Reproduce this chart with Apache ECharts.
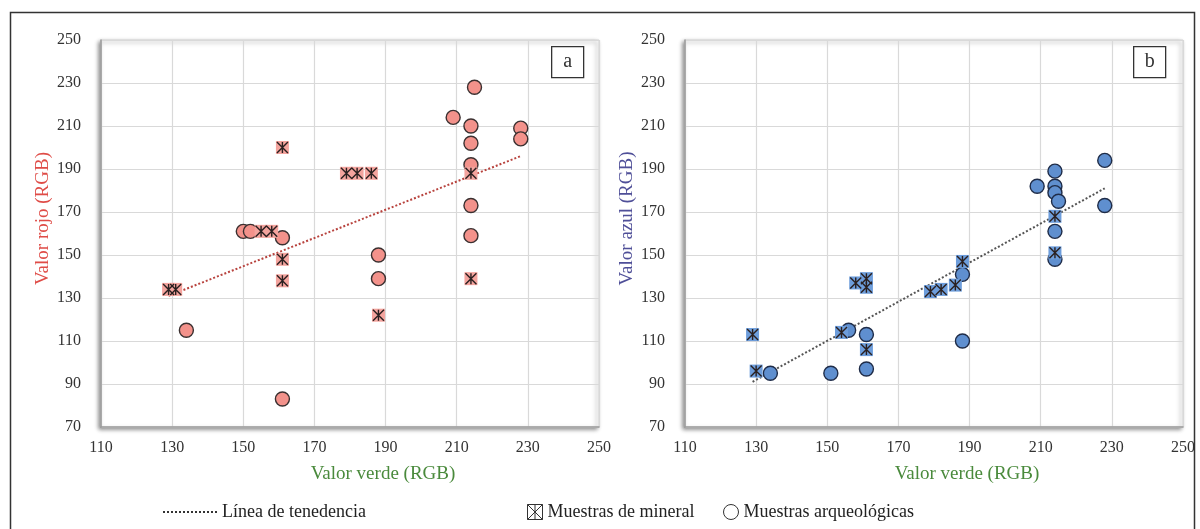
<!DOCTYPE html>
<html><head><meta charset="utf-8">
<script src="https://cdn.jsdelivr.net/npm/echarts@6/dist/echarts.min.js"></script>
<style>html,body{margin:0;padding:0;background:#fff}#c{width:1200px;height:529px}</style>
</head><body><div id="c"></div>
<script>
// ---- data ----
const xMin = 110, xMax = 250, xStep = 20;
const yMin = 70, yMax = 250, yStep = 20;

const mineralA_x = [129,131,155,158,161,161,161,179,182,186,188,214,214];
const mineralA_y = [134,134,161,161,200,148,138,188,188,188,122,188,139];
const arqA_x = [134,150,152,161,161,188,188,209,214,214,214,214,214,215,228,228];
const arqA_y = [115,161,161,158,83,150,139,214,210,202,192,173,159,228,209,204];
const trendA_x = [129,228];
const trendA_y = [131,196];

const mineralB_x = [129,130,154,158,161,161,161,179,182,186,188,214,214];
const mineralB_y = [113,96,114,137,139,135,106,133,134,136,147,168,151];
const arqB_x = [134,151,156,161,161,188,188,209,214,214,214,214,214,215,228,228];
const arqB_y = [95,95,115,113,97,141,110,182,189,182,179,161,148,175,194,173];
const trendB_x = [129,228];
const trendB_y = [91,181];

const xTitle = 'Valor verde (RGB)';
const yTitleA = 'Valor rojo (RGB)';
const yTitleB = 'Valor azul (RGB)';
const panelLabels = ['a','b'];
const legendNames = ['Línea de tenedencia','Muestras de mineral','Muestras arqueológicas'];

// ---- helpers ----
const zip = (xs, ys) => xs.map((x, i) => [x, ys[i]]);
const FONT = 'Liberation Serif';
const starPath = 'path://M0,0L10,10M10,0L0,10M5,0L5,10';

function gridDef(left) {
  return {left: left, top: 40, width: 498, height: 387, show: true,
    backgroundColor: '#fff', borderColor: '#d4d4d4', borderWidth: 1,
    shadowColor: 'rgba(0,0,0,0.45)', shadowBlur: 4, shadowOffsetX: -2, shadowOffsetY: 2};
}
function xAxisDef(gi) {
  return {type: 'value', gridIndex: gi, min: xMin, max: xMax, interval: xStep,
    name: xTitle, nameLocation: 'middle', nameGap: 38,
    nameTextStyle: {color: '#4a8a3c', fontSize: 19, fontFamily: FONT, padding: [0,0,0,66]},
    axisLine: {show: true, lineStyle: {color: '#9a9a9a', width: 1.5}},
    axisTick: {show: false},
    axisLabel: {color: '#333', fontSize: 16, fontFamily: FONT, margin: 13},
    splitLine: {show: true, lineStyle: {color: '#d9d9d9', width: 1.2}}};
}
function yAxisDef(gi, title, color) {
  return {type: 'value', gridIndex: gi, min: yMin, max: yMax, interval: yStep,
    name: title, nameLocation: 'middle', nameGap: 48,
    nameTextStyle: {color: color, fontSize: 19, fontFamily: FONT, padding: [0,0,0,30]},
    axisLine: {show: true, lineStyle: {color: '#9a9a9a', width: 1.5}},
    axisTick: {show: false},
    axisLabel: {color: '#333', fontSize: 16, fontFamily: FONT, margin: 20},
    splitLine: {show: true, lineStyle: {color: '#d9d9d9', width: 1.2}}};
}
function panelSeries(gi, mx, my, ax, ay, tx, ty, fill, sqFill, border, trendColor) {
  return [
    {name: legendNames[0], type: 'line', xAxisIndex: gi, yAxisIndex: gi, data: zip(tx, ty),
      symbol: 'none', silent: true, z: 2,
      lineStyle: {color: trendColor, width: 2, type: [2, 2]}},
    {name: legendNames[2], type: 'scatter', xAxisIndex: gi, yAxisIndex: gi, data: zip(ax, ay),
      symbol: 'circle', symbolSize: 14, z: 3,
      itemStyle: {color: fill, borderColor: border, borderWidth: 1.4, opacity: 1}},
    {name: legendNames[1], type: 'scatter', xAxisIndex: gi, yAxisIndex: gi, data: zip(mx, my),
      symbol: 'rect', symbolSize: 13, z: 4,
      itemStyle: {color: sqFill, opacity: 1}},
    {name: 'star' + gi, type: 'scatter', xAxisIndex: gi, yAxisIndex: gi, data: zip(mx, my),
      symbol: starPath, symbolSize: 11, z: 5, symbolKeepAspect: false,
      itemStyle: {color: 'rgba(0,0,0,0)', borderColor: '#2a2020', borderWidth: 1.4, opacity: 1}}
  ];
}

const dotPath = 'path://' + Array.from({length: 14}, (_, i) => 'M' + (i * 8) + ',0h4v4h-4z').join(' ');
const legendText = {color: '#222', fontSize: 18, fontFamily: FONT};

const option = {
  animation: false,
  backgroundColor: '#fff',
  grid: [gridDef(101), gridDef(685)],
  xAxis: [xAxisDef(0), xAxisDef(1)],
  yAxis: [yAxisDef(0, yTitleA, '#df4c47'), yAxisDef(1, yTitleB, '#4f4f98')],
  legend: [
    {left: 158, top: 498, selectedMode: false, itemWidth: 54, itemHeight: 2, itemGap: 8,
      textStyle: legendText,
      data: [{name: legendNames[0], icon: dotPath, itemStyle: {color: '#333', borderWidth: 0}}]},
    {left: 522, top: 498, selectedMode: false, itemWidth: 15, itemHeight: 15,
      textStyle: legendText,
      data: [{name: legendNames[1], icon: 'path://M0,0H10V10H0Z M0,0L10,10 M10,0L0,10 M5,0V10',
        itemStyle: {color: '#fff', borderColor: '#333', borderWidth: 1}}]},
    {left: 718, top: 498, selectedMode: false, itemWidth: 15, itemHeight: 15,
      textStyle: legendText,
      data: [{name: legendNames[2], icon: 'circle',
        itemStyle: {color: '#fff', borderColor: '#333', borderWidth: 1}}]}
  ],
  graphic: [
    {type: 'rect', left: 8, top: 10, shape: {width: 1184, height: 540},
      style: {fill: 'none', stroke: '#333', lineWidth: 1.5}, silent: true, z: -10},
    {type: 'group', left: 551, top: 46, children: [
      {type: 'rect', shape: {x: 0, y: 0, width: 32, height: 31}, style: {fill: '#fff', stroke: '#333', lineWidth: 1.3}},
      {type: 'text', x: 16, y: 15, style: {text: panelLabels[0], fill: '#333', font: '20px "Liberation Serif"', align: 'center', verticalAlign: 'middle'}}
    ]},
    {type: 'group', left: 1133, top: 46, children: [
      {type: 'rect', shape: {x: 0, y: 0, width: 32, height: 31}, style: {fill: '#fff', stroke: '#333', lineWidth: 1.3}},
      {type: 'text', x: 16, y: 15, style: {text: panelLabels[1], fill: '#333', font: '20px "Liberation Serif"', align: 'center', verticalAlign: 'middle'}}
    ]}
  ],
  series: [].concat(
    panelSeries(0, mineralA_x, mineralA_y, arqA_x, arqA_y, trendA_x, trendA_y, '#f3928b', '#f4a49e', '#3a3030', '#b8433e'),
    panelSeries(1, mineralB_x, mineralB_y, arqB_x, arqB_y, trendB_x, trendB_y, '#5f8fcf', '#6d9ddb', '#1f2c48', '#555')
  )
};

const chart = echarts.init(document.getElementById('c'), null, {renderer: 'canvas'});
chart.setOption(option);
</script>
</body></html>
